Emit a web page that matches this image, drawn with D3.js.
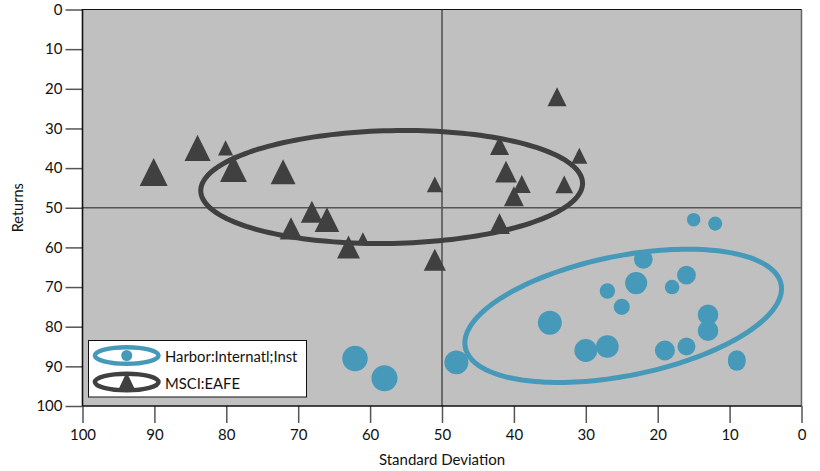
<!DOCTYPE html>
<html><head><meta charset="utf-8">
<script src="https://cdn.jsdelivr.net/npm/d3@7/dist/d3.min.js"></script>
<style>
body{margin:0;background:#fff;}
svg{display:block;}
text{font-family:Lato,"Open Sans",sans-serif;fill:#111;}
</style>
</head><body>
<svg id="chart" width="820" height="471"></svg>
<script>
// ---- data ----
const xTicks = [100, 90, 80, 70, 60, 50, 40, 30, 20, 10, 0];
const yTicks = [0, 10, 20, 30, 40, 50, 60, 70, 80, 90, 100];
const seriesNames = ["Harbor:Internatl;Inst", "MSCI:EAFE"];

const harborStd = [62.1, 58.0, 48.0, 35.0, 15.0, 12.0, 22.0, 23.0, 27.0, 25.0, 16.0, 18.0, 13.0, 13.0, 27.0, 30.0, 19.0, 16.0, 9.0, 9.0];
const harborRet = [88.0, 93.0, 89.0, 79.0, 53.0, 54.0, 63.0, 69.0, 71.0, 75.0, 67.0, 70.0, 77.0, 81.0, 85.0, 86.0, 86.0, 85.0, 88.2, 88.9];
const harborWeight = [9.8, 10.0, 9.2, 9.2, 5.2, 5.4, 7.2, 8.5, 5.9, 6.2, 7.2, 5.6, 7.9, 7.9, 8.7, 8.8, 7.7, 6.9, 6.8, 6.8];

const eafeStd = [90.1, 84.0, 80.1, 79.0, 72.1, 68.1, 66.0, 71.0, 63.0, 61.0, 34.0, 42.0, 30.9, 41.1, 38.9, 40.0, 33.0, 51.0, 42.0, 51.0];
const eafeRet = [41.0, 34.9, 34.9, 40.1, 40.9, 51.0, 53.0, 55.2, 59.9, 57.8, 22.0, 34.3, 36.9, 40.9, 44.0, 47.1, 44.1, 44.1, 54.0, 63.1];
const eafeWeight = [10.0, 9.3, 5.4, 9.6, 8.9, 7.9, 8.8, 8.0, 8.2, 4.6, 6.8, 6.8, 5.7, 7.75, 6.4, 7.1, 6.3, 5.7, 7.4, 7.9];

// ellipse: centre and two conjugate semi-axis vectors, in data units
const harborEllipse = {std: 24.8, ret: 77.26, ax: -21.96, ay: -7.96, bx: -1.63, by: 14.80};
const eafeEllipse   = {std: 57.0, ret: 44.77, ax: -26.55, ay: -1.01, bx: -0.164, by: 14.22};

// ---- drawing ----
const blue = "#4699b8", dark = "#404040";
const svg = d3.select("#chart");
const x = d3.scaleLinear().domain([100, 0]).range([82.5, 801.5]);
const y = d3.scaleLinear().domain([0, 100]).range([9.5, 406]);
const rScale = d3.scaleLinear().domain([0, 10]).range([0, 13]);
const tScale = d3.scaleLinear().domain([0, 10]).range([0, 28]);

// plot background
svg.append("rect").attr("x", x(100)).attr("y", y(0))
  .attr("width", x(0) - x(100)).attr("height", y(100) - y(0)).attr("fill", "#c0c0c0");

// gridlines at 50
svg.append("line").attr("x1", x(50)).attr("x2", x(50)).attr("y1", y(0)).attr("y2", y(100))
  .attr("stroke", "#555").attr("stroke-width", 1.6);
svg.append("line").attr("x1", x(100)).attr("x2", x(0)).attr("y1", y(50)).attr("y2", y(50))
  .attr("stroke", "#555").attr("stroke-width", 1.6);

// ellipses
function ellipsePts(e) {
  return d3.range(0, 181).map(i => {
    const t = i / 180 * 2 * Math.PI;
    return {std: e.std + e.ax * Math.cos(t) + e.bx * Math.sin(t),
            ret: e.ret + e.ay * Math.cos(t) + e.by * Math.sin(t)};
  });
}
const eLine = d3.line().x(d => x(d.std)).y(d => y(d.ret)).curve(d3.curveLinearClosed);
svg.append("path").attr("d", eLine(ellipsePts(eafeEllipse)))
  .attr("fill", "none").attr("stroke", dark).attr("stroke-width", 5);
svg.append("path").attr("d", eLine(ellipsePts(harborEllipse)))
  .attr("fill", "none").attr("stroke", blue).attr("stroke-width", 5);

// triangles
const eafe = eafeStd.map((s, i) => ({std: s, ret: eafeRet[i], w: eafeWeight[i]}));
svg.append("g").selectAll("path").data(eafe).join("path")
  .attr("d", d => {
    const cx = x(d.std), cy = y(d.ret), w = tScale(d.w), h = w;
    return `M${cx},${cy - h / 2}L${cx + w / 2},${cy + h / 2}L${cx - w / 2},${cy + h / 2}Z`;
  })
  .attr("fill", dark);

// circles
const harbor = harborStd.map((s, i) => ({std: s, ret: harborRet[i], w: harborWeight[i]}));
svg.append("g").selectAll("circle").data(harbor).join("circle")
  .attr("cx", d => x(d.std)).attr("cy", d => y(d.ret)).attr("r", d => rScale(d.w))
  .attr("fill", blue);

// frame
svg.append("line").attr("x1", x(0)).attr("x2", x(0)).attr("y1", y(0)).attr("y2", y(100))
  .attr("stroke", "#666").attr("stroke-width", 1.5);
svg.append("line").attr("x1", x(100)).attr("x2", x(0)).attr("y1", y(0)).attr("y2", y(0))
  .attr("stroke", "#111").attr("stroke-width", 1.2);

// axes
const yAxis = d3.axisLeft(y).tickValues(yTicks).tickSize(17).tickPadding(3).tickSizeOuter(0);
const gy = svg.append("g").attr("transform", `translate(${x(100)},0)`).call(yAxis);
const xAxis = d3.axisBottom(x).tickValues(xTicks).tickSize(17).tickPadding(6).tickSizeOuter(0);
const gx = svg.append("g").attr("transform", `translate(0,${y(100)})`).call(xAxis);
[gx, gy].forEach(g => {
  g.select(".domain").remove();
  g.selectAll(".tick line").attr("stroke", "#555").attr("stroke-width", 1.5);
  g.selectAll(".tick text").attr("font-size", 15).attr("font-family", "Lato, sans-serif").attr("fill", "#111");
});
svg.append("line").attr("x1", x(100)).attr("x2", x(100)).attr("y1", y(0) - 0.6).attr("y2", y(100))
  .attr("stroke", "#111").attr("stroke-width", 1.6);
svg.append("line").attr("x1", x(100)).attr("x2", x(0)).attr("y1", y(100)).attr("y2", y(100))
  .attr("stroke", "#111").attr("stroke-width", 1.6);

// axis titles
svg.append("text").attr("x", (x(100) + x(0)) / 2).attr("y", 464.5).attr("text-anchor", "middle")
  .attr("font-size", 15).text("Standard Deviation");
svg.append("text").attr("transform", `translate(23,${(y(0) + y(100)) / 2}) rotate(-90)`)
  .attr("text-anchor", "middle").attr("font-size", 14.5).text("Returns");

// legend
const lg = svg.append("g");
lg.append("rect").attr("x", 88.5).attr("y", 340.5).attr("width", 218).attr("height", 56.5)
  .attr("fill", "#fff").attr("stroke", "#111").attr("stroke-width", 1);
const legendRows = [{name: seriesNames[0], color: blue, cy: 355.5, mark: "circle"},
                    {name: seriesNames[1], color: dark, cy: 382, mark: "tri"}];
legendRows.forEach(r => {
  lg.append("ellipse").attr("cx", 126.7).attr("cy", r.cy).attr("rx", 31.8).attr("ry", 8.3)
    .attr("fill", "none").attr("stroke", r.color).attr("stroke-width", 4.5);
  if (r.mark === "circle") {
    lg.append("circle").attr("cx", 126.7).attr("cy", r.cy).attr("r", 5.5).attr("fill", r.color);
  } else {
    lg.append("path").attr("d", `M126.7,${r.cy - 10}L135.2,${r.cy + 8}L118.2,${r.cy + 8}Z`).attr("fill", r.color);
  }
  lg.append("text").attr("x", 165).attr("y", r.cy + 6.5).attr("font-size", 14.8).text(r.name);
});
</script>
</body></html>
